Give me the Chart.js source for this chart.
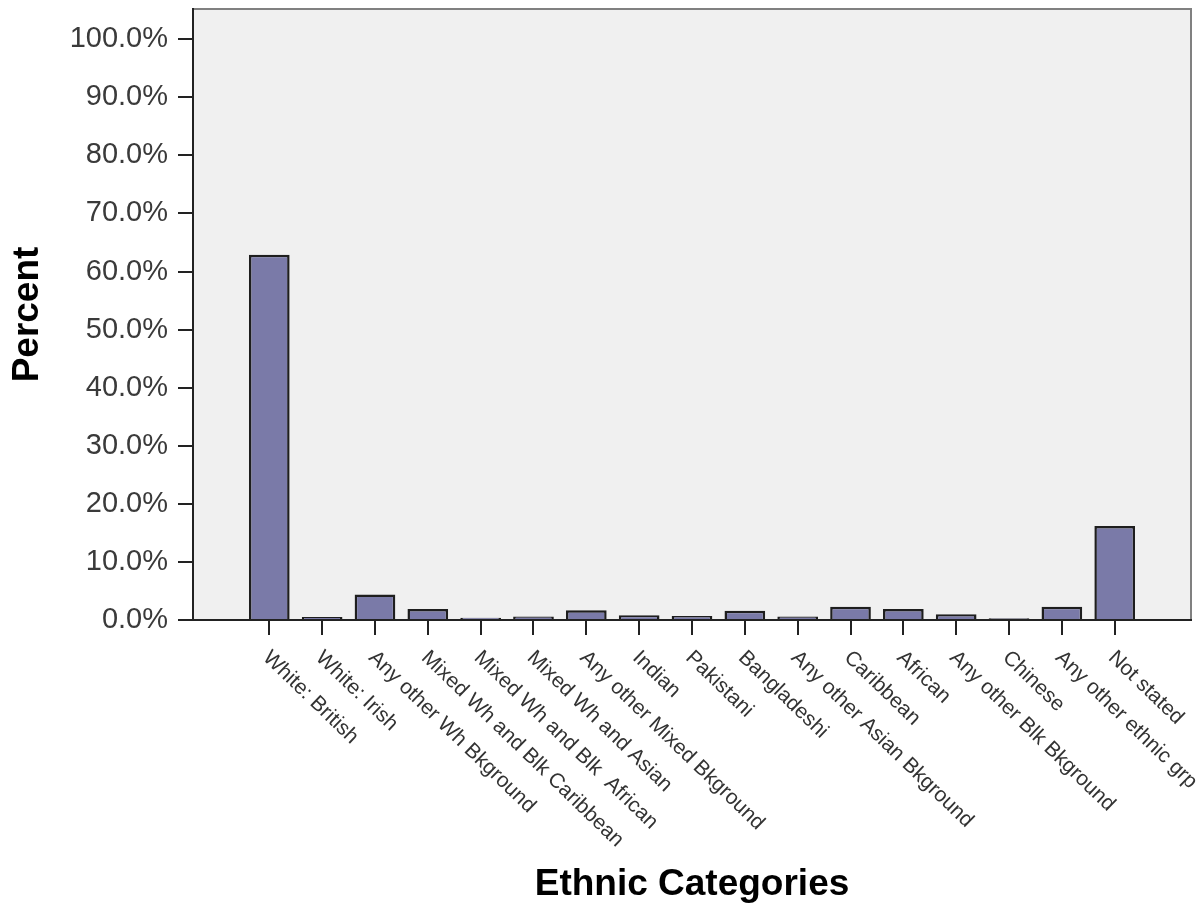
<!DOCTYPE html>
<html>
<head>
<meta charset="utf-8">
<title>Ethnic Categories</title>
<script src="https://cdn.jsdelivr.net/npm/chart.js@4.4.0/dist/chart.umd.min.js"></script>
<style>
  body { margin: 0; background: #fff; }
  canvas { display: block; }
</style>
</head>
<body>
<canvas id="myChart" width="1203" height="907"></canvas>
<script>
// категории и значения (проценты)
const categories = [
  'White: British', 'White: Irish', 'Any other Wh Bkground',
  'Mixed Wh and Blk Caribbean', 'Mixed Wh and Blk  African', 'Mixed Wh and Asian',
  'Any other Mixed Bkground', 'Indian', 'Pakistani', 'Bangladeshi',
  'Any other Asian Bkground', 'Caribbean', 'African', 'Any other Blk Bkground',
  'Chinese', 'Any other ethnic grp', 'Not stated'
];
const percents = [62.9, 0.5, 4.4, 1.9, 0.4, 0.6, 1.7, 0.8, 0.7, 1.6, 0.6, 2.3, 1.9, 1.0, 0.3, 2.3, 16.2];
const yTicks = [0, 10, 20, 30, 40, 50, 60, 70, 80, 90, 100];

const FONT = '"Liberation Sans", Arial, sans-serif';
Chart.defaults.font.family = FONT;

/**
 * Серый фон области графика + рамка сверху и справа
 */
const plotBackground = {
  id: 'plotBackground',
  beforeDraw(chart) {
    const { ctx, chartArea: a } = chart;
    ctx.save();
    ctx.fillStyle = '#f0f0f0';
    ctx.fillRect(a.left, a.top, a.right - a.left, a.bottom - a.top);
    ctx.strokeStyle = '#808080';
    ctx.lineWidth = 2;
    ctx.beginPath();
    ctx.moveTo(a.left, a.top);
    ctx.lineTo(a.right, a.top);
    ctx.lineTo(a.right, a.bottom);
    ctx.stroke();
    ctx.restore();
  }
};

/**
 * Подписи категорий, повернутые вниз-вправо (как в SPSS)
 */
const slantedLabels = {
  id: 'slantedLabels',
  afterDraw(chart) {
    const { ctx } = chart;
    const xs = chart.scales.x;
    ctx.save();
    ctx.font = '21px ' + FONT;
    ctx.fillStyle = '#333';
    ctx.textAlign = 'left';
    ctx.textBaseline = 'top';
    categories.forEach((name, i) => {
      const x = xs.getPixelForValue(i);
      ctx.save();
      ctx.translate(x + 4, xs.top + 27);
      ctx.rotate(44 * Math.PI / 180);
      ctx.fillText(name, 0, 0);
      ctx.restore();
    });
    ctx.restore();
  }
};

function noPadding(scale) {
  scale.paddingTop = 0;
  scale.paddingBottom = 0;
  scale.paddingLeft = 0;
  scale.paddingRight = 0;
}

const ctx = document.getElementById('myChart');
const chart = new Chart(ctx, {
  type: 'bar',
  data: {
    datasets: [{
      label: 'Percent',
      data: percents.map((v, i) => ({ x: i, y: v })),
      backgroundColor: '#7a7aa8',
      borderColor: '#1e1e1e',
      borderWidth: 2.5,
      borderSkipped: 'bottom',
      barPercentage: 0.77,
      categoryPercentage: 1
    }]
  },
  options: {
    responsive: false,
    animation: false,
    layout: { padding: { top: 9, right: 12, left: 0, bottom: 0 } },
    plugins: {
      legend: { display: false },
      tooltip: { enabled: false }
    },
    scales: {
      x: {
        type: 'linear',
        offset: false,
        min: -1.444,
        max: 17.444,
        afterBuildTicks: scale => {
          scale.ticks = categories.map((c, i) => ({ value: i }));
        },
        afterFit: scale => { scale.height = 287; noPadding(scale); },
        ticks: {
          autoSkip: false,
          includeBounds: false,
          callback: () => ''
        },
        grid: {
          offset: false,
          drawOnChartArea: false,
          drawTicks: true,
          tickLength: 15,
          color: '#222',
          lineWidth: 2
        },
        border: { color: '#222', width: 2 },
        title: {
          display: true,
          text: 'Ethnic Categories',
          color: '#000',
          font: { size: 37, weight: 'bold' },
          padding: { top: 0, bottom: 0 }
        }
      },
      y: {
        min: 0,
        max: 105.2,
        afterBuildTicks: scale => {
          scale.ticks = yTicks.map(v => ({ value: v }));
        },
        afterFit: scale => { scale.width = 193; noPadding(scale); },
        ticks: {
          includeBounds: false,
          padding: 10,
          color: '#3a3a3a',
          font: { size: 29 },
          callback: v => v.toFixed(1) + '%'
        },
        grid: {
          drawOnChartArea: false,
          drawTicks: true,
          tickLength: 15,
          color: '#222',
          lineWidth: 2
        },
        border: { color: '#222', width: 2 },
        title: {
          display: true,
          text: 'Percent',
          color: '#000',
          font: { size: 37, weight: 'bold' },
          padding: { top: 6, bottom: 0 }
        }
      }
    }
  },
  plugins: [plotBackground, slantedLabels]
});
</script>
</body>
</html>
